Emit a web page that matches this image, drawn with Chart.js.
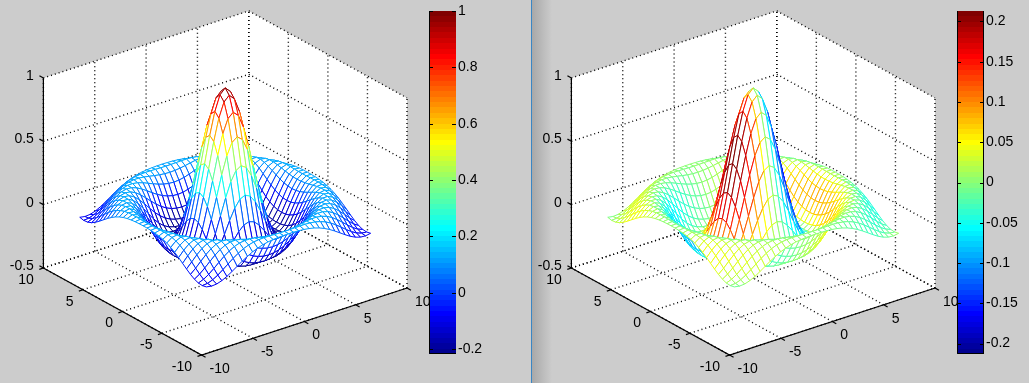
<!DOCTYPE html>
<html>
<head>
<meta charset="utf-8">
<title>sinc mesh</title>
<script src="https://cdn.jsdelivr.net/npm/chart.js@4/dist/chart.umd.min.js"></script>
<style>
  html, body { margin: 0; padding: 0; width: 1029px; height: 383px; overflow: hidden; background: #cccccc; }
  canvas { position: absolute; top: 0; }
  #divider { position: absolute; left: 531px; top: 0; width: 1px; height: 383px; background: #3a86c4; }
  #shade { position: absolute; left: 532px; top: 0; width: 20px; height: 383px; background: linear-gradient(to right, #a8a8a8, #cccccc); }
</style>
</head>
<body>
<div id="divider"></div>
<div id="shade"></div>
<canvas id="meshA" width="528" height="383" style="left:0"></canvas>
<canvas id="meshB" width="501" height="383" style="left:528px"></canvas>
<canvas id="barA" width="90" height="383" style="left:429px"></canvas>
<canvas id="barB" width="72" height="383" style="left:957px"></canvas>
<script>
// grid of the mesh, both directions
const gridValues = [-8, -7.5, -7, -6.5, -6, -5.5, -5, -4.5, -4, -3.5, -3, -2.5, -2, -1.5, -1, -0.5, 0,
  0.5, 1, 1.5, 2, 2.5, 3, 3.5, 4, 4.5, 5, 5.5, 6, 6.5, 7, 7.5, 8];

// heights for one quadrant, rows/columns run from 0 out to 8, the surface mirrors around 0
const zRows = [
  [1, .9589, .8415, .665, .4546, .2394, .047, -.1002, -.1892, -.2172, -.1918, -.1283, -.0466, .0331, .0939, .1251, .1237],
  [.9589, .9187, .8045, .6324, .4278, .2189, .0329, -.1085, -.1927, -.2171, -.1894, -.1248, -.0431, .0359, .0955, .1255, .1231],
  [.8415, .8045, .6985, .5398, .3519, .1612, -.0065, -.1313, -.2016, -.2158, -.1817, -.1143, -.0327, .044, .1003, .1267, .1214],
  [.665, .6324, .5398, .4018, .2394, .0769, -.0629, -.1623, -.2118, -.2107, -.1674, -.0965, -.0159, .0567, .1073, .128, .1179],
  [.4546, .4278, .3519, .2394, .1089, -.0187, -.1241, -.1927, -.2172, -.1985, -.1452, -.0714, .0065, .0727, .1153, .1283, .1121],
  [.2394, .2189, .1612, .0769, -.0187, -.1085, -.1771, -.2131, -.212, -.1761, -.1143, -.0396, .0331, .0904, .1228, .1263, .1031],
  [.047, .0329, -.0065, -.0629, -.1241, -.1771, -.2102, -.2158, -.1918, -.1419, -.0749, -.0029, .0615, .1073, .1276, .1207, .0903],
  [-.1002, -.1085, -.1313, -.1623, -.1927, -.2131, -.2158, -.1964, -.155, -.0965, -.0293, .0359, .0886, .1207, .1277, .1102, .0731],
  [-.1892, -.1927, -.2016, -.2118, -.2172, -.212, -.1918, -.155, -.1036, -.0431, .0187, .0727, .111, .1278, .1214, .0939, .0517],
  [-.2172, -.2171, -.2158, -.2107, -.1985, -.1761, -.1419, -.0965, -.0431, .0127, .0638, .1032, .1251, .1263, .1072, .0717, .0266],
  [-.1918, -.1894, -.1817, -.1674, -.1452, -.1143, -.0749, -.0293, .0187, .0638, .1003, .1228, .1279, .1147, .0851, .0443, -.001],
  [-.1283, -.1248, -.1143, -.0965, -.0714, -.0396, -.0029, .0359, .0727, .1032, .1228, .1282, .1179, .0927, .0561, .0133, -.0287],
  [-.0466, -.0431, -.0327, -.0159, .0065, .0331, .0615, .0886, .111, .1251, .1279, .1179, .0951, .0618, .0221, -.0186, -.0544],
  [.0331, .0359, .044, .0567, .0727, .0904, .1073, .1207, .1278, .1263, .1147, .0927, .0618, .0251, -.0133, -.0483, -.0749],
  [.0939, .0955, .1003, .1073, .1153, .1228, .1276, .1277, .1214, .1072, .0851, .0561, .0221, -.0133, -.0462, -.0722, -.0879],
  [.1251, .1255, .1267, .128, .1283, .1263, .1207, .1102, .0939, .0717, .0443, .0133, -.0186, -.0483, -.0722, -.0872, -.0911],
  [.1237, .1231, .1214, .1179, .1121, .1031, .0903, .0731, .0517, .0266, -.001, -.0287, -.0544, -.0749, -.0879, -.0911, -.084]
];

const xTicks = [-10, -5, 0, 5, 10];
const yTicks = [-10, -5, 0, 5, 10];
const zTicks = [-0.5, 0, 0.5, 1];

const barRangeA = [-0.2172, 1];
const barTicksA = [-0.2, 0, 0.2, 0.4, 0.6, 0.8, 1];
const barRangeB = [-0.2129, 0.2129];
const barTicksB = [-0.2, -0.15, -0.1, -0.05, 0, 0.05, 0.1, 0.15, 0.2];

const FONT = '14px "Liberation Sans", Arial, sans-serif';

// box projection, view az -37.5 el 30 stretched to the figure
function project(x, y, z) {
  return {
    x: 225.2 + x * 10.27 - y * 7.91,
    y: 278 - x * 3.35 - y * 4.35 - (z + 0.5) * 126.7
  };
}

function jetColor(k) {
  const t = (k + 1) / 64;
  const ch = v => Math.round(Math.max(0, Math.min(1, 1.5 - Math.abs(4 * t - v))) * 255);
  return `rgb(${ch(3)},${ch(2)},${ch(1)})`;
}

function colorOf(c, range) {
  const k = Math.floor((c - range[0]) / (range[1] - range[0]) * 64);
  return jetColor(Math.max(0, Math.min(63, k)));
}

// full surface from the quadrant table
const mid = zRows.length - 1;
const Z = gridValues.map((_, i) => gridValues.map((_, j) => zRows[Math.abs(i - mid)][Math.abs(j - mid)]));

// slope along x, colours the right hand mesh
const slopeX = Z.map((col, i) => col.map((_, j) => {
  if (i === 0) return Z[1][j] - Z[0][j];
  if (i === Z.length - 1) return Z[i][j] - Z[i - 1][j];
  return (Z[i + 1][j] - Z[i - 1][j]) / 2;
}));

function lineSet(points, color, dashed) {
  return {
    data: points, borderColor: color, fill: false,
    borderDash: dashed ? [1, 3] : [], borderWidth: dashed ? 1.4 : 1.2
  };
}

function meshDatasets(C, range) {
  const layers = [];

  // white back walls and floor
  const wall = [[-10, -10, -0.5], [10, -10, -0.5], [10, -10, 1], [10, 10, 1], [-10, 10, 1], [-10, 10, -0.5], [-10, -10, -0.5]];
  layers.push({
    data: wall.map(p => project(p[0], p[1], p[2])),
    borderColor: 'rgba(0,0,0,0)', backgroundColor: '#ffffff', fill: 'shape'
  });

  // dotted grid
  xTicks.forEach(t => {
    layers.push(lineSet([project(t, -10, -0.5), project(t, 10, -0.5)], '#000', true));
    layers.push(lineSet([project(t, 10, -0.5), project(t, 10, 1)], '#000', true));
  });
  yTicks.forEach(t => {
    layers.push(lineSet([project(-10, t, -0.5), project(10, t, -0.5)], '#000', true));
    layers.push(lineSet([project(10, t, -0.5), project(10, t, 1)], '#000', true));
  });
  zTicks.forEach(t => {
    layers.push(lineSet([project(-10, 10, t), project(10, 10, t)], '#000', true));
    layers.push(lineSet([project(10, 10, t), project(10, -10, t)], '#000', true));
  });

  // cells, far corner first so the near ones hide them
  for (let i = gridValues.length - 2; i >= 0; i--) {
    for (let j = gridValues.length - 2; j >= 0; j--) {
      const corners = [[i, j], [i + 1, j], [i + 1, j + 1], [i, j + 1], [i, j]];
      const pts = corners.map(c => project(gridValues[c[0]], gridValues[c[1]], Z[c[0]][c[1]]));
      const edgeColors = [colorOf(C[i][j], range), colorOf(C[i + 1][j], range), colorOf(C[i][j + 1], range), colorOf(C[i][j], range)];
      layers.push({ data: pts, borderColor: 'rgba(0,0,0,0)', backgroundColor: '#ffffff', fill: 'shape' });
      layers.push({
        data: pts, borderColor: edgeColors[0], fill: false,
        segment: { borderColor: s => edgeColors[s.p0DataIndex] }
      });
    }
  }

  // solid axes and ticks
  layers.push(lineSet([project(-10, 10, -0.5), project(-10, -10, -0.5), project(10, -10, -0.5)], '#000', false));
  layers.push(lineSet([project(-10, 10, -0.5), project(-10, 10, 1)], '#000', false));
  xTicks.forEach(t => layers.push(lineSet([project(t, -10, -0.5), project(t, -10.5, -0.5)], '#000', false)));
  yTicks.forEach(t => layers.push(lineSet([project(-10, t, -0.5), project(-10.4, t, -0.5)], '#000', false)));
  zTicks.forEach(t => layers.push(lineSet([project(-10, 10, t), project(-10, 10.5, t)], '#000', false)));

  // chart.js paints dataset 0 last
  return layers.reverse();
}

const axisLabels = {
  id: 'axisLabels',
  afterDraw(chart) {
    const { ctx, scales } = chart;
    const put = (text, p, dx, dy, align) => {
      ctx.textAlign = align;
      ctx.fillText(text, scales.x.getPixelForValue(p.x) + dx, scales.y.getPixelForValue(p.y) + dy);
    };
    ctx.save();
    ctx.font = FONT;
    ctx.fillStyle = '#000';
    ctx.textBaseline = 'middle';
    xTicks.forEach(t => put(String(t), project(t, -10, -0.5), 8, 14, 'left'));
    yTicks.forEach(t => put(String(t), project(-10, t, -0.5), -9.5, 12, 'right'));
    zTicks.forEach(t => put(String(t), project(-10, 10, t), -9.5, -2, 'right'));
    ctx.restore();
  }
};

function drawMesh(id, width, C, range) {
  new Chart(document.getElementById(id), {
    type: 'line',
    data: { datasets: meshDatasets(C, range) },
    plugins: [axisLabels],
    options: {
      responsive: false,
      animation: false,
      events: [],
      parsing: false,
      normalized: false,
      layout: { padding: 0 },
      elements: {
        point: { radius: 0 },
        line: { borderWidth: 1, tension: 0 }
      },
      scales: {
        x: { type: 'linear', display: false, min: 0, max: width },
        y: { type: 'linear', display: false, min: 0, max: 383, reverse: true }
      },
      plugins: {
        legend: { display: false },
        tooltip: { enabled: false },
        filler: { drawTime: 'beforeDatasetDraw' }
      }
    }
  });
}

// left and bottom edges always, right edge only on the second bar
function barFrame(rightEdge) {
  return {
    id: 'barFrame',
    afterDatasetsDraw(chart) {
      const { ctx, chartArea: a, scales } = chart;
      ctx.save();
      ctx.strokeStyle = '#000';
      ctx.lineWidth = 1;
      ctx.beginPath();
      ctx.moveTo(a.left + 0.5, a.top);
      ctx.lineTo(a.left + 0.5, a.bottom - 0.5);
      ctx.lineTo(a.right, a.bottom - 0.5);
      if (rightEdge) {
        ctx.moveTo(a.right - 0.5, a.top);
        ctx.lineTo(a.right - 0.5, a.bottom);
      }
      scales.y.ticks.forEach(t => {
        const py = Math.round(scales.y.getPixelForValue(t.value)) + 0.5;
        ctx.moveTo(a.left, py); ctx.lineTo(a.left + 4, py);
        ctx.moveTo(a.right - 4, py); ctx.lineTo(a.right, py);
      });
      ctx.stroke();
      ctx.restore();
    }
  };
}

function drawBar(id, canvasWidth, range, ticks, rightEdge) {
  new Chart(document.getElementById(id), {
    type: 'bar',
    data: {
      labels: ['c'],
      datasets: [{
        data: [range],
        barPercentage: 1,
        categoryPercentage: 1,
        backgroundColor(ctx) {
          const a = ctx.chart.chartArea;
          if (!a) return '#000';
          const g = ctx.chart.ctx.createLinearGradient(0, a.bottom, 0, a.top);
          for (let k = 0; k < 64; k++) {
            g.addColorStop(k / 64, jetColor(k));
            g.addColorStop((k + 1) / 64, jetColor(k));
          }
          return g;
        }
      }]
    },
    plugins: [barFrame(rightEdge)],
    options: {
      responsive: false,
      animation: false,
      events: [],
      layout: { padding: { top: 11, bottom: 29, left: 0, right: 0 } },
      scales: {
        x: { display: false },
        y: {
          position: 'right',
          min: range[0],
          max: range[1],
          grid: { display: false, drawTicks: false },
          border: { display: false },
          afterBuildTicks(s) { s.ticks = ticks.map(v => ({ value: v })); },
          afterFit(s) { s.width = canvasWidth - 27; },
          ticks: {
            autoSkip: false,
            padding: 2,
            color: '#000',
            font: { family: '"Liberation Sans", Arial, sans-serif', size: 14 },
            callback: v => String(v)
          }
        }
      },
      plugins: { legend: { display: false }, tooltip: { enabled: false } }
    }
  });
}

drawMesh('meshA', 528, Z, barRangeA);
drawMesh('meshB', 501, slopeX, barRangeB);
drawBar('barA', 90, barRangeA, barTicksA, false);
drawBar('barB', 72, barRangeB, barTicksB, true);
</script>
</body>
</html>
